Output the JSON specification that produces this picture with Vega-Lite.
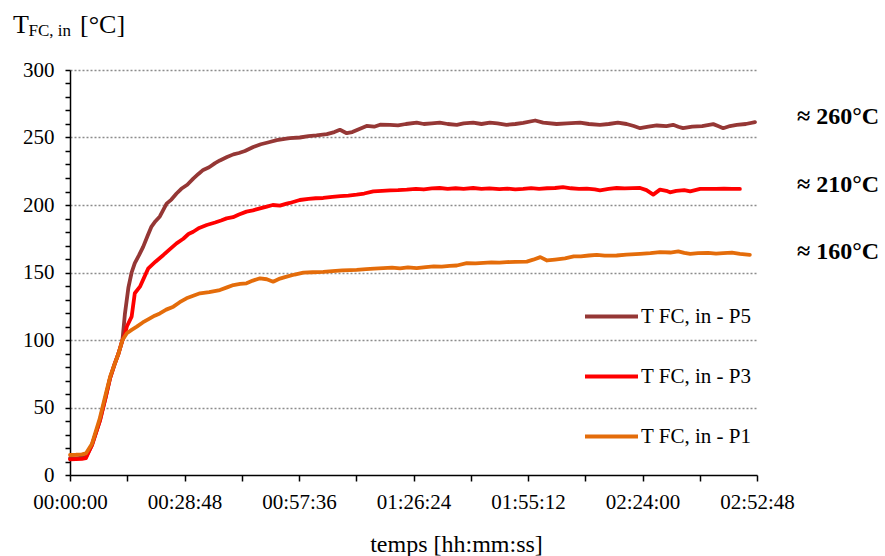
{
  "$schema": "https://vega.github.io/schema/vega-lite/v6.json",
  "width": 687,
  "height": 405,
  "autosize": {"type": "none"},
  "padding": {"left": 70, "top": 70, "right": 128, "bottom": 81},
  "background": "white",
  "config": {
    "view": {"stroke": null},
    "font": "Liberation Serif",
    "axis": {"labelFont": "Liberation Serif", "labelFontSize": 21, "titleFont": "Liberation Serif", "titleFontSize": 24, "labelColor": "black", "titleColor": "black", "domainColor": "black", "tickColor": "black", "domainWidth": 1.5, "tickWidth": 1.5},
    "legend": {"labelFont": "Liberation Serif", "labelFontSize": 21}
  },
  "resolve": {"scale": {"x": "shared", "y": "shared"}, "axis": {"x": "independent", "y": "independent"}},
  "layer": [
    {
      "data": {"values": [
        {"s":"P5","t":0,"T":12.5},{"s":"P5","t":1.5,"T":12.3},{"s":"P5","t":3,"T":12.8},{"s":"P5","t":4,"T":13.5},{"s":"P5","t":5.5,"T":22},{"s":"P5","t":7.5,"T":40},{"s":"P5","t":9,"T":58},{"s":"P5","t":10.1,"T":72},{"s":"P5","t":11.2,"T":82},{"s":"P5","t":12.2,"T":90},{"s":"P5","t":13.2,"T":100},{"s":"P5","t":13.8,"T":119},{"s":"P5","t":14.7,"T":139},{"s":"P5","t":15.5,"T":150},{"s":"P5","t":16.3,"T":157},{"s":"P5","t":17.4,"T":163},{"s":"P5","t":18.4,"T":169},{"s":"P5","t":19.5,"T":177},{"s":"P5","t":20.5,"T":184},{"s":"P5","t":21.5,"T":188},{"s":"P5","t":22.6,"T":191.5},{"s":"P5","t":23.4,"T":196},{"s":"P5","t":24.3,"T":201},{"s":"P5","t":25.5,"T":204},{"s":"P5","t":26.8,"T":208.5},{"s":"P5","t":28,"T":212},{"s":"P5","t":29.5,"T":215},{"s":"P5","t":31,"T":219.5},{"s":"P5","t":32.3,"T":223},{"s":"P5","t":33.5,"T":226},{"s":"P5","t":35,"T":228},{"s":"P5","t":36.5,"T":231},{"s":"P5","t":37.7,"T":233},{"s":"P5","t":39.5,"T":235.5},{"s":"P5","t":41.1,"T":237.5},{"s":"P5","t":42.5,"T":238.5},{"s":"P5","t":44,"T":240},{"s":"P5","t":46.1,"T":243},{"s":"P5","t":48,"T":245},{"s":"P5","t":50,"T":246.5},{"s":"P5","t":52,"T":248},{"s":"P5","t":54,"T":249},{"s":"P5","t":55.3,"T":249.5},{"s":"P5","t":57.8,"T":250},{"s":"P5","t":60,"T":251},{"s":"P5","t":62,"T":251.5},{"s":"P5","t":64.6,"T":252.5},{"s":"P5","t":66.5,"T":254},{"s":"P5","t":67.9,"T":255.7},{"s":"P5","t":69.6,"T":253.2},{"s":"P5","t":71,"T":254},{"s":"P5","t":72.5,"T":256},{"s":"P5","t":74.6,"T":258.6},{"s":"P5","t":76.5,"T":258},{"s":"P5","t":78,"T":259.5},{"s":"P5","t":80.5,"T":259.4},{"s":"P5","t":82.5,"T":259},{"s":"P5","t":84.5,"T":260},{"s":"P5","t":87.2,"T":261},{"s":"P5","t":89,"T":260},{"s":"P5","t":91,"T":260.5},{"s":"P5","t":93,"T":261},{"s":"P5","t":95,"T":260},{"s":"P5","t":97.3,"T":259.4},{"s":"P5","t":99,"T":260.5},{"s":"P5","t":101.4,"T":261},{"s":"P5","t":103.5,"T":260},{"s":"P5","t":105.6,"T":261},{"s":"P5","t":107.5,"T":260.5},{"s":"P5","t":109.8,"T":259.4},{"s":"P5","t":112,"T":260},{"s":"P5","t":114,"T":260.8},{"s":"P5","t":117,"T":262.6},{"s":"P5","t":119,"T":261},{"s":"P5","t":122.4,"T":260},{"s":"P5","t":125,"T":260.5},{"s":"P5","t":128.3,"T":261},{"s":"P5","t":130.5,"T":260},{"s":"P5","t":133.3,"T":259.4},{"s":"P5","t":135.5,"T":260},{"s":"P5","t":137.8,"T":261},{"s":"P5","t":140,"T":260},{"s":"P5","t":141.8,"T":258.5},{"s":"P5","t":143.4,"T":256.9},{"s":"P5","t":145.5,"T":258},{"s":"P5","t":147.6,"T":258.9},{"s":"P5","t":150,"T":258.5},{"s":"P5","t":151.7,"T":259.4},{"s":"P5","t":153,"T":258},{"s":"P5","t":154.2,"T":256.9},{"s":"P5","t":156.5,"T":258},{"s":"P5","t":159,"T":258.5},{"s":"P5","t":161.8,"T":259.9},{"s":"P5","t":163,"T":258.5},{"s":"P5","t":164.3,"T":256.9},{"s":"P5","t":166,"T":258.5},{"s":"P5","t":167.7,"T":259.4},{"s":"P5","t":170,"T":260},{"s":"P5","t":172.3,"T":261.4},
        {"s":"P3","t":0,"T":11.5},{"s":"P3","t":1.5,"T":11.8},{"s":"P3","t":3,"T":12},{"s":"P3","t":4,"T":12.5},{"s":"P3","t":5.5,"T":22},{"s":"P3","t":7.5,"T":40},{"s":"P3","t":9,"T":58},{"s":"P3","t":10.1,"T":72},{"s":"P3","t":11.2,"T":82},{"s":"P3","t":12.2,"T":90},{"s":"P3","t":13.2,"T":100},{"s":"P3","t":13.8,"T":104},{"s":"P3","t":14.3,"T":110},{"s":"P3","t":15.5,"T":117.3},{"s":"P3","t":16.3,"T":134.6},{"s":"P3","t":17.6,"T":139.5},{"s":"P3","t":18.6,"T":146},{"s":"P3","t":19.7,"T":153.1},{"s":"P3","t":21.5,"T":158},{"s":"P3","t":23.5,"T":163},{"s":"P3","t":25,"T":167},{"s":"P3","t":26.8,"T":171.6},{"s":"P3","t":28.5,"T":175},{"s":"P3","t":29.8,"T":178.5},{"s":"P3","t":31,"T":180.2},{"s":"P3","t":32.5,"T":183},{"s":"P3","t":34.4,"T":185.2},{"s":"P3","t":36.5,"T":187},{"s":"P3","t":38,"T":188.5},{"s":"P3","t":39.4,"T":190.1},{"s":"P3","t":41,"T":191},{"s":"P3","t":42.5,"T":193},{"s":"P3","t":44.4,"T":195.1},{"s":"P3","t":46,"T":196},{"s":"P3","t":47.8,"T":197.5},{"s":"P3","t":49.5,"T":198.8},{"s":"P3","t":51,"T":200},{"s":"P3","t":52.8,"T":199.5},{"s":"P3","t":54.5,"T":201},{"s":"P3","t":55.3,"T":201.5},{"s":"P3","t":57.8,"T":203.7},{"s":"P3","t":60,"T":204.5},{"s":"P3","t":61.8,"T":205},{"s":"P3","t":63.7,"T":205.2},{"s":"P3","t":66,"T":206},{"s":"P3","t":68,"T":206.5},{"s":"P3","t":70,"T":207},{"s":"P3","t":72.1,"T":207.7},{"s":"P3","t":74,"T":208.5},{"s":"P3","t":76.3,"T":210.1},{"s":"P3","t":78.5,"T":210.5},{"s":"P3","t":80.5,"T":210.8},{"s":"P3","t":82.5,"T":211},{"s":"P3","t":84.7,"T":211.4},{"s":"P3","t":87,"T":212},{"s":"P3","t":89,"T":211.5},{"s":"P3","t":91,"T":212.3},{"s":"P3","t":93,"T":212.6},{"s":"P3","t":95,"T":212},{"s":"P3","t":97,"T":212.4},{"s":"P3","t":99,"T":212},{"s":"P3","t":101.4,"T":212.6},{"s":"P3","t":103.5,"T":212},{"s":"P3","t":105.5,"T":212.3},{"s":"P3","t":108,"T":211.8},{"s":"P3","t":110,"T":212.2},{"s":"P3","t":112,"T":211.6},{"s":"P3","t":114,"T":211.9},{"s":"P3","t":116,"T":212.5},{"s":"P3","t":118,"T":212},{"s":"P3","t":120,"T":212.4},{"s":"P3","t":122,"T":212.6},{"s":"P3","t":124,"T":213.3},{"s":"P3","t":126,"T":212.4},{"s":"P3","t":128,"T":212},{"s":"P3","t":130,"T":212.2},{"s":"P3","t":132,"T":211.6},{"s":"P3","t":133.3,"T":210.9},{"s":"P3","t":135.5,"T":212},{"s":"P3","t":137.5,"T":212.6},{"s":"P3","t":139.5,"T":212.3},{"s":"P3","t":141.5,"T":212.5},{"s":"P3","t":143.4,"T":212.6},{"s":"P3","t":145,"T":211},{"s":"P3","t":146.7,"T":207.7},{"s":"P3","t":148.4,"T":211.4},{"s":"P3","t":150,"T":210.5},{"s":"P3","t":150.9,"T":209.4},{"s":"P3","t":152.5,"T":210.5},{"s":"P3","t":154.5,"T":211},{"s":"P3","t":156,"T":210.1},{"s":"P3","t":158.5,"T":211.9},{"s":"P3","t":160.5,"T":212},{"s":"P3","t":162.5,"T":212},{"s":"P3","t":164.5,"T":212.2},{"s":"P3","t":166.5,"T":212},{"s":"P3","t":168.5,"T":211.9},
        {"s":"P1","t":0,"T":14.8},{"s":"P1","t":1.5,"T":15},{"s":"P1","t":3,"T":15.3},{"s":"P1","t":4,"T":16},{"s":"P1","t":5.5,"T":23},{"s":"P1","t":7.5,"T":42},{"s":"P1","t":9,"T":60},{"s":"P1","t":10.1,"T":72.8},{"s":"P1","t":11.2,"T":82},{"s":"P1","t":12.2,"T":90},{"s":"P1","t":13.2,"T":100},{"s":"P1","t":14.3,"T":105},{"s":"P1","t":15.5,"T":107.5},{"s":"P1","t":16.8,"T":109.9},{"s":"P1","t":18.3,"T":113},{"s":"P1","t":20.1,"T":116},{"s":"P1","t":21.3,"T":118},{"s":"P1","t":22.6,"T":119.7},{"s":"P1","t":24.2,"T":122.5},{"s":"P1","t":26,"T":124.7},{"s":"P1","t":27.6,"T":128},{"s":"P1","t":29.3,"T":130.9},{"s":"P1","t":31,"T":132.8},{"s":"P1","t":32.7,"T":134.6},{"s":"P1","t":35,"T":135.5},{"s":"P1","t":37.7,"T":137},{"s":"P1","t":39.5,"T":139},{"s":"P1","t":41.1,"T":140.7},{"s":"P1","t":42.8,"T":141.5},{"s":"P1","t":44.4,"T":142},{"s":"P1","t":46,"T":144},{"s":"P1","t":47.8,"T":145.7},{"s":"P1","t":49.5,"T":145},{"s":"P1","t":51.1,"T":143.2},{"s":"P1","t":52.8,"T":145.5},{"s":"P1","t":54.5,"T":146.9},{"s":"P1","t":56.5,"T":148.5},{"s":"P1","t":58.7,"T":149.9},{"s":"P1","t":61,"T":150.2},{"s":"P1","t":63.7,"T":150.4},{"s":"P1","t":66,"T":151},{"s":"P1","t":68.5,"T":151.6},{"s":"P1","t":70.5,"T":151.8},{"s":"P1","t":72.1,"T":152},{"s":"P1","t":74.5,"T":152.5},{"s":"P1","t":76.5,"T":152.9},{"s":"P1","t":78.8,"T":153.2},{"s":"P1","t":81,"T":153.6},{"s":"P1","t":83,"T":153},{"s":"P1","t":85,"T":153.8},{"s":"P1","t":87.2,"T":153.2},{"s":"P1","t":89.5,"T":154},{"s":"P1","t":91.5,"T":154.5},{"s":"P1","t":93.5,"T":154.3},{"s":"P1","t":95.5,"T":154.9},{"s":"P1","t":97.3,"T":155.2},{"s":"P1","t":99.8,"T":156.9},{"s":"P1","t":102,"T":156.8},{"s":"P1","t":104,"T":157.2},{"s":"P1","t":106,"T":157.5},{"s":"P1","t":108,"T":157.3},{"s":"P1","t":109.8,"T":157.7},{"s":"P1","t":112,"T":157.9},{"s":"P1","t":114.9,"T":158.1},{"s":"P1","t":116.5,"T":159.5},{"s":"P1","t":118.3,"T":161.4},{"s":"P1","t":120,"T":158.9},{"s":"P1","t":122,"T":159.6},{"s":"P1","t":124.5,"T":160.5},{"s":"P1","t":126.7,"T":161.9},{"s":"P1","t":128.5,"T":162},{"s":"P1","t":130.5,"T":162.6},{"s":"P1","t":132.5,"T":163.1},{"s":"P1","t":134.5,"T":162.5},{"s":"P1","t":137.5,"T":162.6},{"s":"P1","t":140,"T":163.2},{"s":"P1","t":143.4,"T":163.8},{"s":"P1","t":146,"T":164.3},{"s":"P1","t":148.4,"T":165.1},{"s":"P1","t":151,"T":164.8},{"s":"P1","t":153,"T":165.6},{"s":"P1","t":154.5,"T":164.5},{"s":"P1","t":156,"T":163.8},{"s":"P1","t":158,"T":164.3},{"s":"P1","t":160.5,"T":164.6},{"s":"P1","t":162.5,"T":164},{"s":"P1","t":164.3,"T":164.3},{"s":"P1","t":166.5,"T":164.8},{"s":"P1","t":168.5,"T":163.8},{"s":"P1","t":171,"T":163.1}
      ]},
      "mark": {"type": "line", "strokeWidth": 3.8, "strokeJoin": "round", "strokeCap": "round"},
      "encoding": {
        "x": {
          "field": "t", "type": "quantitative",
          "scale": {"domain": [0, 172.8], "nice": false, "zero": false},
          "axis": {
            "orient": "bottom",
            "values": [0, 14.4, 28.8, 43.2, 57.6, 72, 86.4, 100.8, 115.2, 129.6, 144, 158.4, 172.8],
            "labelExpr": "round(datum.value / 14.4) % 2 == 0 ? utcFormat(round(datum.value * 60) * 1000, '%H:%M:%S') : ''",
            "labelOverlap": false, "labelFlush": false,
            "labelFont": "Liberation Serif", "labelFontSize": 21, "labelPadding": 10,
            "tickSize": 6, "grid": false,
            "title": "temps [hh:mm:ss]", "titleFont": "Liberation Serif", "titleFontSize": 24, "titleFontWeight": "normal",
            "titleX": 386, "titleY": 76, "titleAlign": "center", "titleBaseline": "alphabetic", "titleAnchor": null
          }
        },
        "y": {
          "field": "T", "type": "quantitative",
          "scale": {"domain": [0, 300], "nice": false, "zero": true},
          "axis": {
            "orient": "left",
            "values": [0,10,20,30,40,50,60,70,80,90,100,110,120,130,140,150,160,170,180,190,200,210,220,230,240,250,260,270,280,290,300],
            "labelExpr": "datum.value % 50 == 0 ? datum.label : ''",
            "labelOverlap": false, "labelFlush": false,
            "labelFont": "Liberation Serif", "labelFontSize": 21, "labelPadding": 11,
            "tickSize": 5,
            "grid": true,
            "gridColor": "#8c8c8c", "gridDash": [2, 2], "gridWidth": 1.3,
            "gridOpacity": {"condition": {"test": "datum.value % 50 == 0 && datum.value > 0", "value": 1}, "value": 0},
            "title": null
          }
        },
        "color": {
          "field": "s", "type": "nominal",
          "scale": {"domain": ["P5", "P3", "P1"], "range": ["#953735", "#FF0000", "#E46C0A"]},
          "legend": {
            "orient": "none", "legendX": 513, "legendY": 218, "title": null,
            "symbolType": "stroke", "symbolSize": 2809, "symbolStrokeWidth": 4,
            "labelFont": "Liberation Serif", "labelFontSize": 21, "labelColor": "black",
            "rowPadding": 21, "labelOffset": 1, "padding": 0,
            "labelExpr": "'T FC, in - ' + datum.label"
          }
        }
      }
    },
    {
      "data": {"values": [
        {"label": "≈ 260°C", "T": 260},
        {"label": "≈ 210°C", "T": 210},
        {"label": "≈ 160°C", "T": 160}
      ]},
      "mark": {"type": "text", "align": "left", "baseline": "alphabetic", "dx": 40, "font": "Liberation Serif", "fontSize": 24, "fontWeight": "bold", "color": "black"},
      "encoding": {
        "x": {"datum": 172.8, "type": "quantitative", "axis": null},
        "y": {"field": "T", "type": "quantitative", "axis": null},
        "text": {"field": "label"}
      }
    },
    {
      "data": {"values": [{}]},
      "mark": {"type": "text", "text": "T", "align": "left", "baseline": "alphabetic", "dx": -57, "dy": -37, "font": "Liberation Serif", "fontSize": 26, "color": "black"},
      "encoding": {"x": {"datum": 0, "type": "quantitative", "axis": null}, "y": {"datum": 300, "type": "quantitative", "axis": null}}
    },
    {
      "data": {"values": [{}]},
      "mark": {"type": "text", "text": "FC, in", "align": "left", "baseline": "alphabetic", "dx": -41.5, "dy": -34, "font": "Liberation Serif", "fontSize": 17, "color": "black"},
      "encoding": {"x": {"datum": 0, "type": "quantitative", "axis": null}, "y": {"datum": 300, "type": "quantitative", "axis": null}}
    },
    {
      "data": {"values": [{}]},
      "mark": {"type": "text", "text": "[°C]", "align": "left", "baseline": "alphabetic", "dx": 10, "dy": -37, "font": "Liberation Serif", "fontSize": 26, "color": "black"},
      "encoding": {"x": {"datum": 0, "type": "quantitative", "axis": null}, "y": {"datum": 300, "type": "quantitative", "axis": null}}
    }
  ]
}
